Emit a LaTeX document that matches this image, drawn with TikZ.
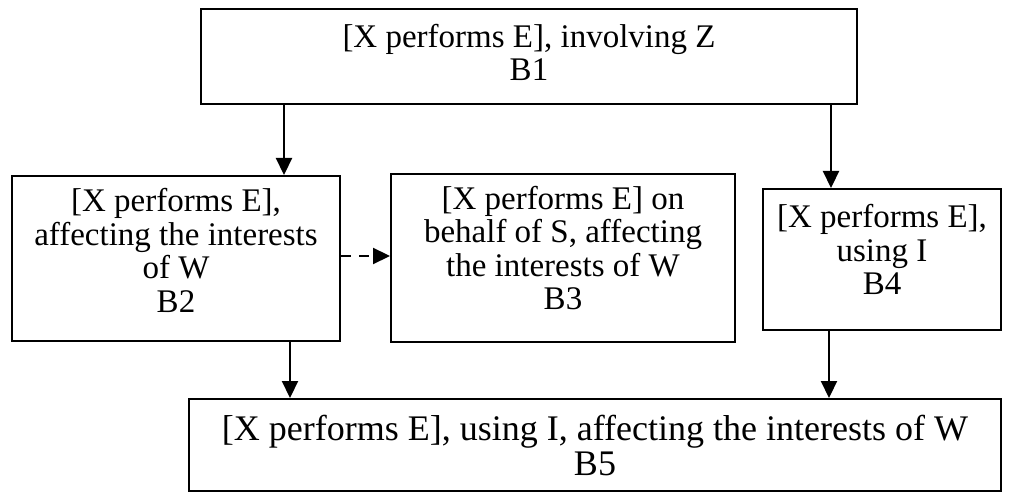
\documentclass[tikz,border=0pt]{standalone}
\usepackage{fontspec}
\setmainfont{Liberation Serif}
\usetikzlibrary{arrows.meta}

\tikzset{
  box/.style={draw, rectangle, line width=2pt, inner sep=0pt},
  txt/.style={inner sep=0pt, align=center, font=\fontsize{33}{33.5}\selectfont},
  bigtxt/.style={txt, font=\fontsize{36}{35}\selectfont},
  arr/.style={line width=2.2pt, -{Triangle[length=17pt,width=16pt]}},
  dasharr/.style={arr, dash pattern=on 10pt off 8pt},
}

\begin{document}
\begin{tikzpicture}[x=1pt,y=-1pt]
  \useasboundingbox (0,0) rectangle (1012,494);

  % boxes
  \node[box, minimum width=656pt, minimum height=95pt]  (B1) at (529,56.5) {};
  \node[box, minimum width=328pt, minimum height=165pt] (B2) at (176,258.5) {};
  \node[box, minimum width=344pt, minimum height=168pt] (B3) at (563,258) {};
  \node[box, minimum width=238pt, minimum height=141pt] (B4) at (882,259.5) {};
  \node[box, minimum width=812pt, minimum height=92pt]  (B5) at (595,445) {};

  % box texts
  \node[txt] (T1) at ([yshift=4pt]B1.center) {[X performs E], involving Z\\B1};
  \node[txt] (T2) at ([yshift=8pt]B2.center)
    {[X performs E],\\affecting the interests\\of W\\B2};
  \node[txt] (T3) at ([yshift=10pt]B3.center)
    {[X performs E] on\\behalf of S, affecting\\the interests of W\\B3};
  \node[txt] (T4) at ([yshift=10pt]B4.center) {[X performs E],\\using I\\B4};
  \node[bigtxt] (T5) at (B5.center)
    {[X performs E], using I, affecting the interests of W\\B5};

  % columns and row of the connectors
  \coordinate (c12) at (284,0);
  \coordinate (c14) at (831,0);
  \coordinate (c25) at (290,0);
  \coordinate (c45) at (829,0);
  \coordinate (c23) at (0,256);

  % connectors
  \draw[arr] (B1.south -| c12) -- (B2.north -| c12);
  \draw[arr] (B1.south -| c14) -- (B4.north -| c14);
  \draw[dasharr] (B2.east |- c23) -- (B3.west |- c23);
  \draw[arr] (B2.south -| c25) -- (B5.north -| c25);
  \draw[arr] (B4.south -| c45) -- (B5.north -| c45);
\end{tikzpicture}
\end{document}
